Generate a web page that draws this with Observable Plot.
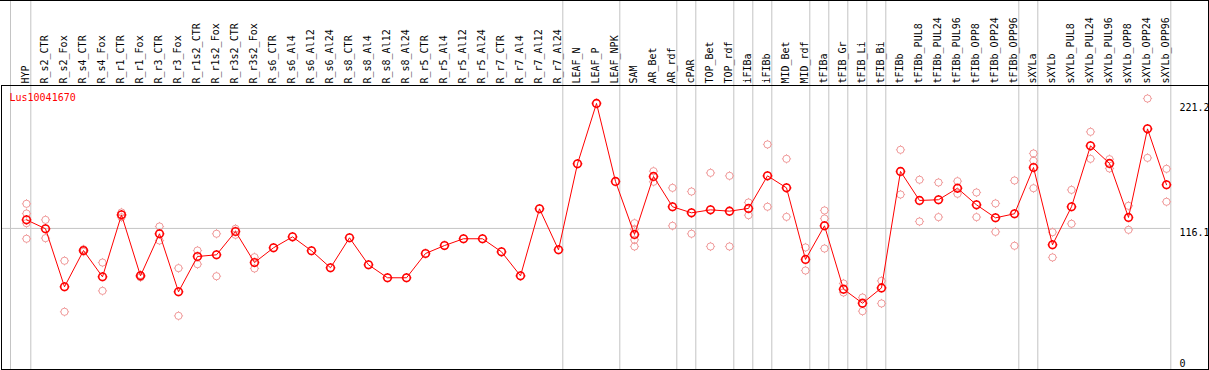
<!DOCTYPE html>
<html>
<head>
<meta charset="utf-8">
<script src="https://cdn.jsdelivr.net/npm/d3@7"></script>
<script src="https://cdn.jsdelivr.net/npm/@observablehq/plot@0.6"></script>
<style>
  html, body { margin: 0; padding: 0; background: white; }
  #wrap { position: relative; width: 1209px; height: 370px; overflow: hidden; }
  #topbox { position: absolute; left: 0; top: 0; width: 1209px; height: 86px; box-sizing: border-box;
            border-top: 1px solid #000; border-right: 1px solid #000; pointer-events: none; }
</style>
</head>
<body>
<div id="wrap"><div id="topbox"></div></div>
<script>
const title = "Lus10041670";

const categories = [
  "HYP","R_s2_CTR","R_s2_Fox","R_s4_CTR","R_s4_Fox","R_r1_CTR","R_r1_Fox","R_r3_CTR","R_r3_Fox",
  "R_r1s2_CTR","R_r1s2_Fox","R_r3s2_CTR","R_r3s2_Fox","R_s6_CTR","R_s6_Al4","R_s6_Al12","R_s6_Al24",
  "R_s8_CTR","R_s8_Al4","R_s8_Al12","R_s8_Al24","R_r5_CTR","R_r5_Al4","R_r5_Al12","R_r5_Al24",
  "R_r7_CTR","R_r7_Al4","R_r7_Al12","R_r7_Al24","LEAF_N","LEAF_P","LEAF_NPK","SAM","AR_Bet","AR_rdf",
  "cPAR","TOP_Bet","TOP_rdf","iFIBa","iFIBb","MID_Bet","MID_rdf","tFIBa","tFIB_Gr","tFIB_Li","tFIB_Bi",
  "tFIBb","tFIBb_PUL8","tFIBb_PUL24","tFIBb_PUL96","tFIBb_OPP8","tFIBb_OPP24","tFIBb_OPP96",
  "sXYLa","sXYLb","sXYLb_PUL8","sXYLb_PUL24","sXYLb_PUL96","sXYLb_OPP8","sXYLb_OPP24","sXYLb_OPP96"
];

const means = [
  123.3, 115.8, 67.0, 97.5, 75.4, 127.5, 76.2, 111.6, 62.8,
  92.5, 93.9, 113.5, 87.4, 99.8, 109.0, 97.3, 83.0,
  108.2, 85.5, 74.6, 74.6, 95.0, 101.7, 107.4, 107.4,
  96.4, 76.2, 132.6, 98.1, 170.4, 221.2, 155.6, 111.0, 159.8, 134.3,
  129.2, 131.7, 130.6, 132.9, 160.3, 150.2, 90.0, 118.3, 65.0, 53.2, 66.1,
  164.0, 139.6, 140.2, 149.9, 135.9, 125.0, 128.4,
  167.3, 102.3, 134.3, 185.5, 170.7, 125.3, 199.8, 152.8
];

const replicates = [
  [136.8, 128.6, 120.5, 107.4], [123.3, 107.9], [88.9, 46.0], [98.5, 96.5], [87.4, 63.6],
  [129.5, 125.5], [77.0, 75.0], [117.7, 105.9], [82.7, 42.6],
  [97.5, 86.0], [111.6, 75.9], [115.8, 110.7], [91.9, 82.4], [], [], [], [],
  [], [], [], [], [], [], [], [],
  [], [], [], [], [], [], [], [120.5, 115.5, 106.5, 100.9], [164.2, 155.3], [150.2, 118.3],
  [147.1, 111.6], [162.8, 100.9], [160.3, 100.9], [137.9, 127.2], [186.7, 134.3], [174.6, 125.8],
  [100.1, 80.7], [131.2, 124.4, 99.2], [69.8, 62.2], [58.0, 46.5], [72.0, 53.0],
  [182.2, 144.6], [157.0, 121.9], [154.7, 125.6], [155.8, 145.2], [146.3, 125.6], [137.1, 113.2], [156.4, 101.5],
  [179.1, 173.0, 149.9], [112.9, 91.7], [148.5, 120.0], [197.3, 174.6], [174.3, 166.5], [135.1, 114.9],
  [225.3, 175.4], [166.2, 138.5]
];

// group boundaries: a separator line follows each of these categories
const groupEnds = ["HYP","R_r7_Al24","LEAF_NPK","AR_rdf","cPAR","TOP_rdf","iFIBa","iFIBb","MID_rdf",
  "tFIBa","tFIB_Gr","tFIB_Li","tFIB_Bi","tFIBb_OPP96","sXYLa","sXYLb_OPP96"];

const yTickValues = [0, 116.1, 221.2];
const gridValues = [116.1];

const meanData = categories.map((c, i) => ({cat: c, value: means[i]}));
const repData = categories.flatMap((c, i) => replicates[i].map(v => ({cat: c, value: v})));

function ring(r, t) {
  return {
    draw(ctx) {
      ctx.moveTo(r, 0);
      ctx.arc(0, 0, r, 0, 2 * Math.PI);
      ctx.moveTo(0, -r); ctx.lineTo(0, -r - t);
      ctx.moveTo(0, r); ctx.lineTo(0, r + t);
      ctx.moveTo(-r, 0); ctx.lineTo(-r - t, 0);
      ctx.moveTo(r, 0); ctx.lineTo(r + t, 0);
    }
  };
}

const grey = "#c4c4c4";
const last = categories[categories.length - 1];

const chart = Plot.plot({
  width: 1209,
  height: 370,
  marginTop: 85,
  marginLeft: 1,
  marginRight: 1,
  marginBottom: 1,
  style: {fontFamily: "DejaVu Sans Mono", fontSize: "10px", background: "white", color: "black"},
  x: {type: "point", domain: categories, range: [26, 1166], padding: 0, align: 0.5, axis: null},
  y: {domain: [0, 221.2], range: [366, 102.9], axis: null},
  marks: [
    Plot.ruleX(groupEnds, {x: d => d, dx: 4.3, stroke: grey, insetTop: -85}),
    Plot.ruleX([categories[0]], {x: d => d, dx: -16, stroke: grey, insetTop: -85}),
    Plot.ruleY(gridValues, {y: d => d, stroke: grey, insetRight: 38}),
    Plot.frame({stroke: "black"}),
    Plot.text(categories, {x: d => d, text: d => d, frameAnchor: "top", dy: -2, dx: -1,
      rotate: -90, textAnchor: "start", lineAnchor: "middle", fill: "black", fontSize: 10}),
    Plot.text([title], {text: d => d, frameAnchor: "top-left", dx: 8, dy: 8,
      textAnchor: "start", lineAnchor: "top", fill: "red", fontSize: 10}),
    Plot.text(yTickValues.filter(v => v > 0), {x: () => last, y: d => d, text: d => String(d),
      dx: 13, dy: 0.5, textAnchor: "start", lineAnchor: "top", fill: "black", fontSize: 10}),
    Plot.text(yTickValues.filter(v => v === 0), {x: () => last, y: d => d, text: d => String(d),
      dx: 13, textAnchor: "start", lineAnchor: "bottom", fill: "black", fontSize: 10}),
    Plot.dot(repData, {x: "cat", y: "value", symbol: ring(3.6, 1), r: 4, fill: "none",
      stroke: "#f09a9a", strokeWidth: 1}),
    Plot.line(meanData, {x: "cat", y: "value", stroke: "red", strokeWidth: 1}),
    Plot.dot(meanData, {x: "cat", y: "value", symbol: ring(3.8, 1), r: 4, fill: "none",
      stroke: "red", strokeWidth: 1.6})
  ]
});
document.getElementById("wrap").prepend(chart);
</script>
</body>
</html>
